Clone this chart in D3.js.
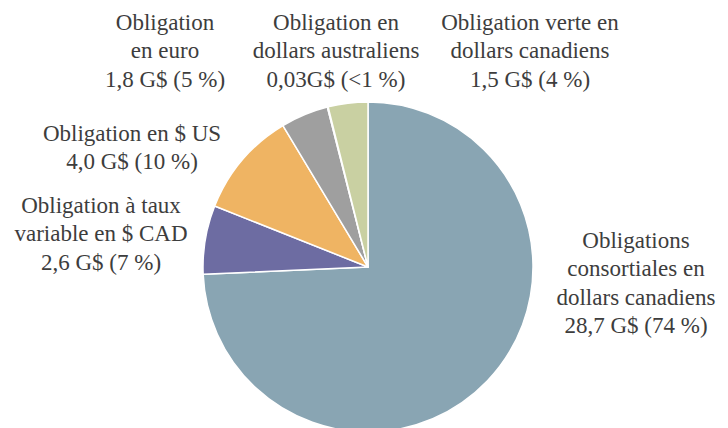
<!DOCTYPE html>
<html><head><meta charset="utf-8">
<script src="https://cdn.jsdelivr.net/npm/d3@7/dist/d3.min.js"></script>
<style>body{margin:0;background:#fff}svg{display:block}</style>
</head><body>
<svg id="c" width="728" height="428"></svg>
<script>
const categories = [
  "Obligations consortiales en dollars canadiens",
  "Obligation à taux variable en $ CAD",
  "Obligation en $ US",
  "Obligation en euro",
  "Obligation en dollars australiens",
  "Obligation verte en dollars canadiens"
];
const values = [28.7, 2.6, 4.0, 1.8, 0.03, 1.5];
const valueLabels = ["28,7 G$ (74 %)", "2,6 G$ (7 %)", "4,0 G$ (10 %)", "1,8 G$ (5 %)", "0,03G$ (<1 %)", "1,5 G$ (4 %)"];
const labelLines = [
  ["Obligations", "consortiales en", "dollars canadiens"],
  ["Obligation à taux", "variable en $ CAD"],
  ["Obligation en $ US"],
  ["Obligation", "en euro"],
  ["Obligation en", "dollars australiens"],
  ["Obligation verte en", "dollars canadiens"]
];
const colors = ["#89a5b3", "#6d6ca2", "#efb463", "#9f9f9f", "#9f9f9f", "#c9d0a2"];

const svg = d3.select("#c");
const cx = 368, cy = 267, r = 165;
const pie = d3.pie().sort(null).value(d => d)(values);
const arc = d3.arc().innerRadius(0).outerRadius(r);
svg.append("g").attr("transform", `translate(${cx},${cy})`)
  .selectAll("path").data(pie).join("path")
  .attr("d", arc).attr("fill", (d, i) => colors[i])
  .attr("stroke", "#fff").attr("stroke-width", 1.5).attr("stroke-linejoin", "round");

// label anchor positions (center x, first baseline y)
const labelPos = [[636, 248], [101, 213], [132, 141], [165, 30], [336, 30], [530, 30]];
const lh = 28.3;
const tg = svg.append("g").attr("font-family", "'Liberation Serif', 'DejaVu Serif', serif")
  .attr("font-size", 23).attr("fill", "#3d3d3d").attr("text-anchor", "middle");
categories.forEach((c, i) => {
  const lines = labelLines[i].concat([valueLabels[i]]);
  const t = tg.append("text").attr("x", labelPos[i][0]).attr("y", labelPos[i][1]);
  lines.forEach((l, j) => t.append("tspan").attr("x", labelPos[i][0]).attr("dy", j ? lh : 0).text(l));
});
</script>
</body></html>
